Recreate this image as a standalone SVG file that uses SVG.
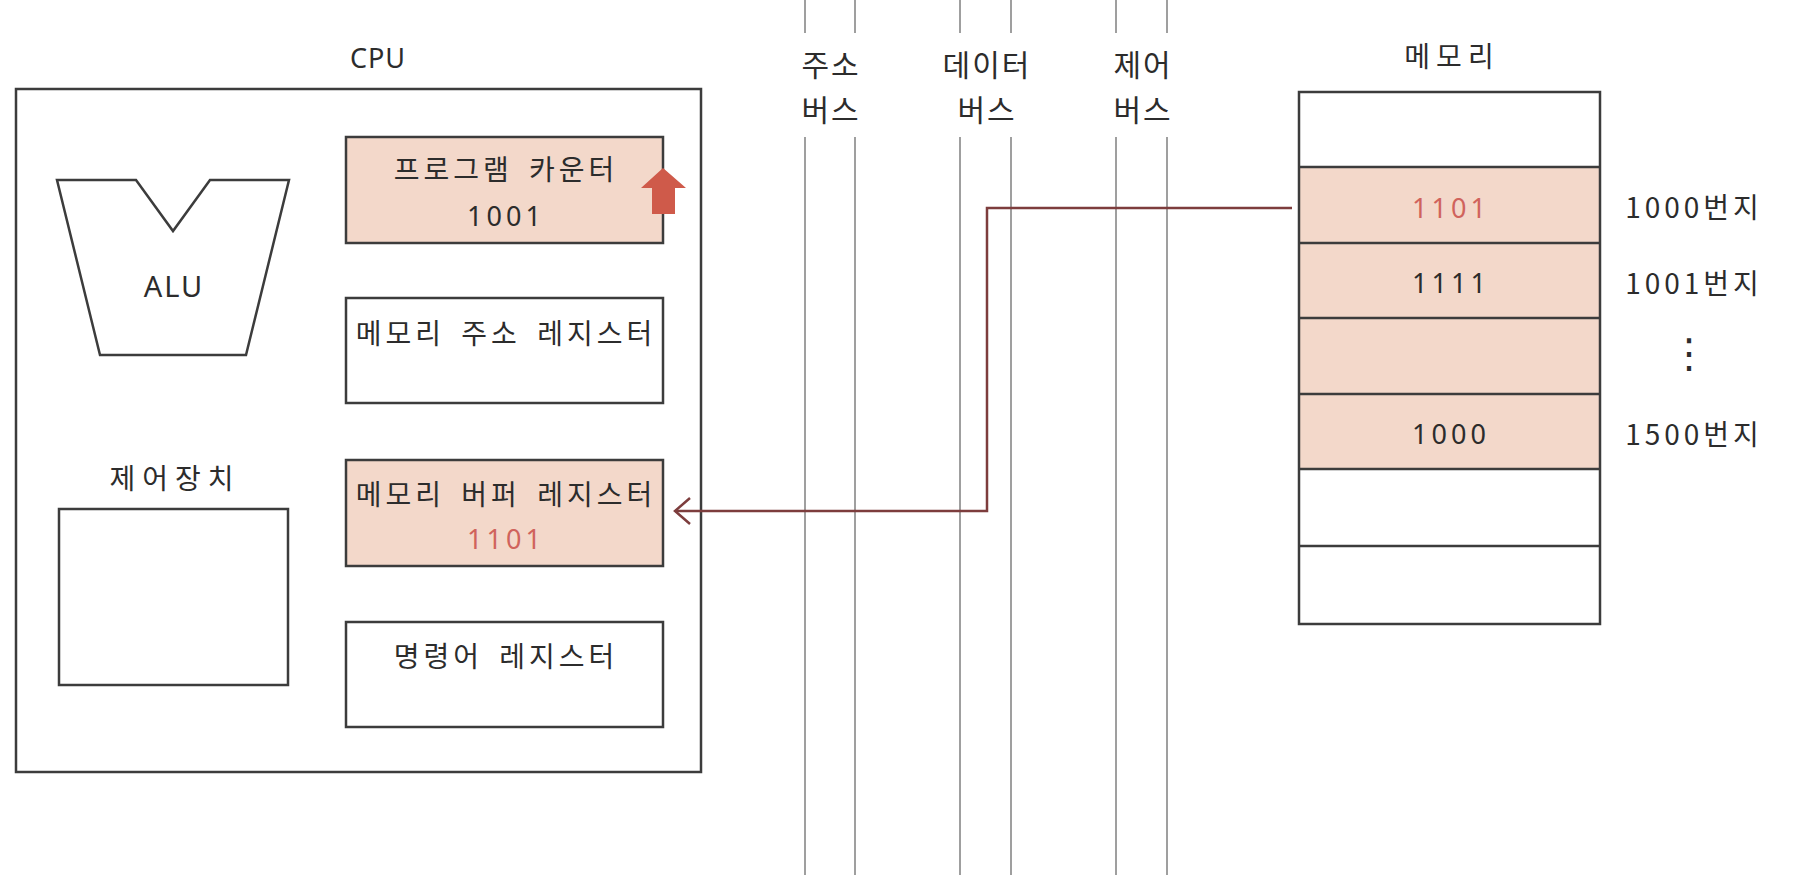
<svg xmlns="http://www.w3.org/2000/svg" width="1796" height="888" viewBox="0 0 1796 888">
  <defs>
    <style>
      .box { fill: #ffffff; stroke: #3c3c3c; stroke-width: 2.5; }
      .pink { fill: #f3d8ca; }
      .t { font-family: "Noto Sans CJK KR", "Noto Sans", sans-serif; fill: #2c2c2c; font-size: 28px; text-anchor: middle; dominant-baseline: central; letter-spacing: 4px; word-spacing: 6px; }
      .num { font-family: "Noto Sans", "Noto Sans CJK KR", sans-serif; font-size: 27px; letter-spacing: 4px; }
      .red { fill: #d0635c; }
      .bus { stroke: #9f9f9f; stroke-width: 2; fill: none; }
      .conn { stroke: #7d3d3d; stroke-width: 2.5; fill: none; }
    </style>
    <marker id="chev" markerUnits="userSpaceOnUse" markerWidth="30" markerHeight="30" refX="0" refY="0" orient="auto" overflow="visible">
      <path d="M-15,-13 L0,0 L-15,13" fill="none" stroke="#7d3d3d" stroke-width="2.5"/>
    </marker>
  </defs>
  <rect x="0" y="0" width="1796" height="888" fill="#ffffff"/>

  <g id="cpu">
    <text class="t" x="378" y="57" style="font-family:'Noto Sans',sans-serif;font-size:27px;letter-spacing:1px">CPU</text>
    <rect class="box" x="16" y="89" width="685" height="683"/>
  </g>

  <g id="alu">
    <path class="box" d="M57,180 L136,180 L173,231 L210,180 L289,180 L246,355 L100,355 Z"/>
    <text class="t" x="174" y="285" style="font-family:'Noto Sans',sans-serif;font-size:29px;letter-spacing:2px">ALU</text>
  </g>

  <g id="control-unit">
    <text class="t" x="175" y="477" style="letter-spacing:7px">제어장치</text>
    <rect class="box" x="59" y="509" width="229" height="176"/>
  </g>

  <g id="program-counter">
    <rect class="box pink" x="346" y="137" width="317" height="106"/>
    <text class="t" x="506" y="168">프로그램 카운터</text>
    <text class="t num" x="506" y="215">1001</text>
    <path d="M663,168 L641,188 L652,188 L652,214 L675,214 L675,188 L686,188 Z" fill="#cf5a4a"/>
  </g>

  <g id="mar">
    <rect class="box" x="346" y="298" width="317" height="105"/>
    <text class="t" x="506" y="332">메모리 주소 레지스터</text>
  </g>

  <g id="mbr">
    <rect class="box pink" x="346" y="460" width="317" height="106"/>
    <text class="t" x="506" y="493">메모리 버퍼 레지스터</text>
    <text class="t num red" x="506" y="538">1101</text>
  </g>

  <g id="ir">
    <rect class="box" x="346" y="622" width="317" height="105"/>
    <text class="t" x="506" y="655">명령어 레지스터</text>
  </g>

  <g id="address-bus">
    <line class="bus" x1="805" y1="0" x2="805" y2="33"/>
    <line class="bus" x1="855" y1="0" x2="855" y2="33"/>
    <line class="bus" x1="805" y1="137" x2="805" y2="875"/>
    <line class="bus" x1="855" y1="137" x2="855" y2="875"/>
    <text class="t" x="831" y="63" style="font-size:30px;letter-spacing:2px">주소</text>
    <text class="t" x="831" y="108" style="font-size:30px;letter-spacing:2px">버스</text>
  </g>

  <g id="data-bus">
    <line class="bus" x1="960" y1="0" x2="960" y2="33"/>
    <line class="bus" x1="1011" y1="0" x2="1011" y2="33"/>
    <line class="bus" x1="960" y1="137" x2="960" y2="875"/>
    <line class="bus" x1="1011" y1="137" x2="1011" y2="875"/>
    <text class="t" x="987" y="63" style="font-size:30px;letter-spacing:2px">데이터</text>
    <text class="t" x="987" y="108" style="font-size:30px;letter-spacing:2px">버스</text>
  </g>

  <g id="control-bus">
    <line class="bus" x1="1116" y1="0" x2="1116" y2="33"/>
    <line class="bus" x1="1167" y1="0" x2="1167" y2="33"/>
    <line class="bus" x1="1116" y1="137" x2="1116" y2="875"/>
    <line class="bus" x1="1167" y1="137" x2="1167" y2="875"/>
    <text class="t" x="1143" y="63" style="font-size:30px;letter-spacing:2px">제어</text>
    <text class="t" x="1143" y="108" style="font-size:30px;letter-spacing:2px">버스</text>
  </g>

  <g id="memory">
    <text class="t" x="1452" y="55" style="letter-spacing:6px">메모리</text>
    <rect class="pink" x="1299" y="167" width="301" height="302"/>
    <rect x="1299" y="92" width="301" height="532" fill="none" stroke="#3c3c3c" stroke-width="2.5"/>
    <g stroke="#3c3c3c" stroke-width="2.5">
      <line x1="1299" y1="167" x2="1600" y2="167"/>
      <line x1="1299" y1="243" x2="1600" y2="243"/>
      <line x1="1299" y1="318" x2="1600" y2="318"/>
      <line x1="1299" y1="394" x2="1600" y2="394"/>
      <line x1="1299" y1="469" x2="1600" y2="469"/>
      <line x1="1299" y1="546" x2="1600" y2="546"/>
    </g>
    <text class="t num red" x="1451" y="207">1101</text>
    <text class="t num" x="1451" y="282">1111</text>
    <text class="t num" x="1451" y="433">1000</text>
    <text class="t" x="1694" y="206">1000번지</text>
    <text class="t" x="1694" y="282">1001번지</text>
    <text class="t" x="1689" y="353" style="font-family:'DejaVu Sans',sans-serif;font-size:40px;letter-spacing:0">⋮</text>
    <text class="t" x="1694" y="433">1500번지</text>
  </g>

  <g id="connectors">
    <path class="conn" d="M1292,208 H987 V511 H675" marker-end="url(#chev)"/>
  </g>
</svg>
